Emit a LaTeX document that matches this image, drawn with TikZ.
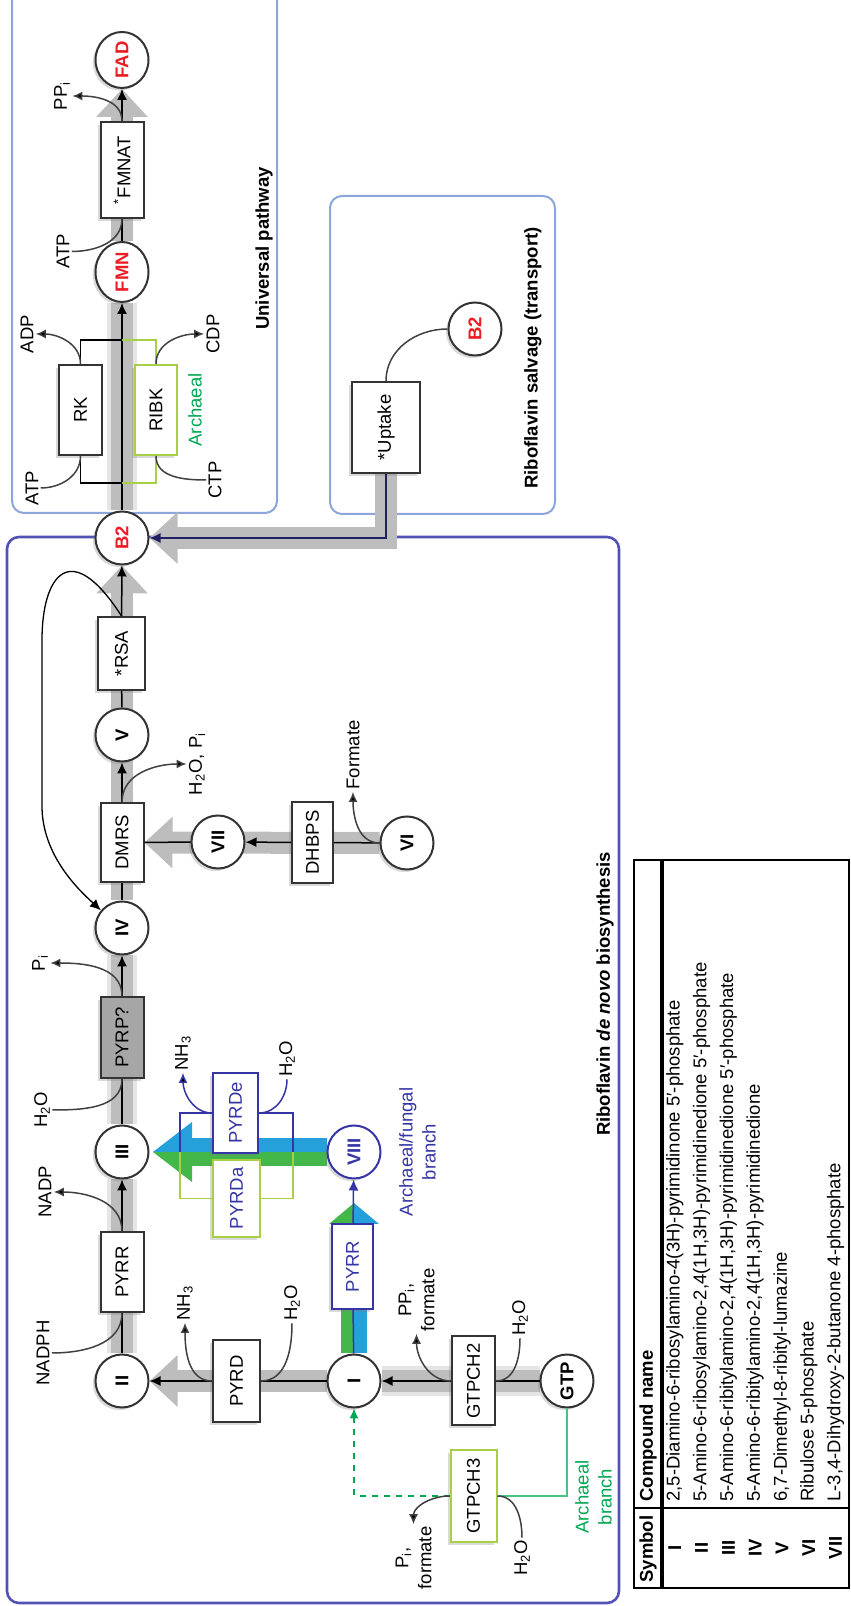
\documentclass[tikz,border=0pt]{standalone}
\usepackage{fontspec}
\setmainfont{Liberation Sans}
\usetikzlibrary{arrows.meta,positioning,shapes.geometric,shadows,calc}
\definecolor{Navy}{HTML}{3535A5}
\definecolor{Leaf}{HTML}{00A651}
\definecolor{LeafLight}{HTML}{A8CF45}
\definecolor{BandGreen}{HTML}{43B74A}
\definecolor{BandBlue}{HTML}{26A0DA}
\definecolor{FlavRed}{HTML}{ED1C24}
\definecolor{FrameBlue}{HTML}{8CA6DB}
\definecolor{FramePurple}{HTML}{5252B5}
\definecolor{BandGray}{HTML}{BDBDBD}
\newcommand{\figfont}{\fontsize{9.25}{11.5}\selectfont}
\pgfdeclarelayer{frame}
\pgfdeclarelayer{band}
\pgfsetlayers{frame,band,main}

\begin{document}
\begin{tikzpicture}[
    x=0.5pt, y=0.5pt, rotate=90, transform shape,
    enzyme/.style={rectangle, draw=black!80, line width=1pt, fill=white, minimum width=42pt, minimum height=21.5pt, inner sep=1pt, font=\figfont, drop shadow={opacity=0.3, shadow xshift=-1.3pt, shadow yshift=-1.3pt}},
    cpd/.style={circle, draw=black!80, line width=1pt, fill=white, minimum size=26.5pt, inner sep=0pt, font={\figfont\bfseries}, drop shadow={opacity=0.3, shadow xshift=-1.3pt, shadow yshift=-1.3pt}},
    cof/.style={ellipse, draw=black!80, line width=1pt, fill=white, minimum height=26.5pt, inner sep=0pt, text=FlavRed, font={\figfont\bfseries}, drop shadow={opacity=0.3, shadow xshift=-1.3pt, shadow yshift=-1.3pt}},
    lbl/.style={inner sep=1pt, font=\figfont, align=center},
    boxtitle/.style={inner sep=1pt, font={\figfont\bfseries}},
    rxn/.style={draw=black, line width=0.75pt},
    rxnarr/.style={rxn, -{Latex[length=5.5pt,width=5pt]}},
    sidepath/.style={draw=black!75, line width=0.75pt},
    sidearr/.style={sidepath, -{Latex[length=5pt,width=4.5pt,fill=black]}},
    flux/.style={draw=BandGray, line width=11pt, preaction={draw=black!10, line width=15pt}},
    fluxarr/.style={draw=BandGray, line width=11pt, -{Triangle[length=14pt,width=25pt]}},
]
\useasboundingbox (0,0) rectangle (1606,-851);

% de novo main row
\node[cpd] (ii) at (225,-122) {II};
\node[enzyme, minimum width=40pt] (pyrr) at (334,-122) {PYRR};
\node[cpd] (iii) at (454,-122) {III};
\node[enzyme, minimum width=40.5pt, fill=black!35] (pyrp) at (568.5,-122) {PYRP?};
\node[cpd] (iv) at (678,-122) {IV};
\node[enzyme, minimum width=39.5pt] (dmrs) at (763.5,-122) {DMRS};
\node[cpd] (v) at (871,-122) {V};
\node[enzyme, minimum width=36.5pt, minimum height=23.5pt] (rsa) at (952.5,-121.5) {*RSA};
\node[cpd, text=FlavRed] (b2) at (1068,-122) {B2};

% universal pathway
\node[enzyme, minimum width=45pt] (rk) at (1196,-80.5) {RK};
\node[enzyme, minimum width=45pt, minimum height=21pt, draw=LeafLight] (ribk) at (1196,-156) {RIBK};
\node[cof, minimum width=30pt] (fmn) at (1334,-122) {FMN};
\node[enzyme, minimum width=48pt] (fmnat) at (1436,-122) {\textsuperscript{*}FMNAT};
\node[cof, minimum width=28pt] (fad) at (1546,-122) {FAD};

% side branches
\node[cpd] (vii) at (764,-218) {VII};
\node[enzyme, minimum width=40.5pt, minimum height=20.5pt] (dhbps) at (763.5,-312.5) {DHBPS};
\node[cpd] (vi) at (763,-407) {VI};
\node[enzyme, minimum width=41pt, minimum height=23.5pt] (pyrd) at (225,-236.5) {PYRD};
\node[cpd] (i) at (225,-354) {I};
\node[enzyme, minimum width=44.5pt] (gtpch2) at (225,-473.5) {GTPCH2};
\node[cpd] (gtp) at (225,-567) {GTP};
\node[enzyme, minimum width=46pt, minimum height=23pt, draw=LeafLight] (gtpch3) at (110,-473.5) {GTPCH3};
\node[enzyme, minimum width=42.5pt, minimum height=20.5pt, draw=Navy, text=Navy] (pyrrb) at (339.5,-352.5) {PYRR};
\node[cpd, draw=Navy, text=Navy] (viii) at (454,-354) {VIII};
\node[enzyme, minimum width=40pt, minimum height=22.5pt, draw=Navy, text=Navy] (pyrde) at (493,-235.5) {PYRDe};
\node[enzyme, minimum width=38.5pt, minimum height=23.5pt, draw=LeafLight, text=Navy] (pyrda) at (407.5,-236.5) {PYRDa};

% salvage
\node[enzyme, minimum width=45.5pt, minimum height=34pt] (uptake) at (1178.5,-386) {*Uptake};
\node[cpd, text=FlavRed] (b2s) at (1277,-475) {B2};

% small labels
\node[lbl] (atpf) at (1354.5,-63) {ATP};
\node[lbl] (ppif) at (1510,-62) {PP\textsubscript{i}};
\node[lbl] (atpr) at (1118,-32) {ATP};
\node[lbl] (adp) at (1272,-27) {ADP};
\node[lbl] (ctp) at (1126,-215) {CTP};
\node[lbl] (cdp) at (1272,-213) {CDP};
\node[lbl, text=Leaf] (archrk) at (1196,-195) {Archaeal};
\node[lbl] (nadph) at (253,-43) {NADPH};
\node[lbl] (nadp) at (414,-45) {NADP};
\node[lbl] (h2oa) at (496,-42) {H\textsubscript{2}O};
\node[lbl] (pia) at (643,-40) {P\textsubscript{i}};
\node[lbl] (h2opi) at (842,-197) {H\textsubscript{2}O, P\textsubscript{i}};
\node[lbl] (formate) at (851,-353) {Formate};
\node[lbl] (nh3a) at (303,-185) {NH\textsubscript{3}};
\node[lbl] (h2ob) at (303,-292) {H\textsubscript{2}O};
\node[lbl] (nh3b) at (553,-183) {NH\textsubscript{3}};
\node[lbl] (h2oc) at (547,-287) {H\textsubscript{2}O};
\node[lbl] (ppf2) at (306,-416.5) {PP\textsubscript{i},\\formate};
\node[lbl] (h2od) at (288,-520) {H\textsubscript{2}O};
\node[lbl] (pf3) at (48,-413.5) {P\textsubscript{i},\\formate};
\node[lbl] (h2oe) at (48,-522) {H\textsubscript{2}O};
\node[lbl, text=Leaf] (archgtp) at (109,-593.5) {Archaeal\\branch};
\node[lbl, text=Navy] (archfun) at (454,-417.5) {Archaeal/fungal\\branch};
\node[boxtitle] (tuniv) at (1357.5,-264) {Universal pathway};
\node[boxtitle] (tsalv) at (1248,-533) {Riboflavin salvage (transport)};
\node[boxtitle] (tdenovo) at (612,-605) {Riboflavin \textit{de novo} biosynthesis};

% boxes round the pathways
\begin{pgfonlayer}{frame}
\draw[FrameBlue, line width=1pt, rounded corners=6pt] (1093,-12) rectangle (1625,-277);
\draw[FrameBlue, line width=1pt, rounded corners=6pt] (1092,-330) rectangle (1410,-555);
\draw[FramePurple, line width=1.3pt, rounded corners=6pt] (3,-7) rectangle (1069,-619);
\end{pgfonlayer}

% flux bands
\begin{pgfonlayer}{band}
\draw[flux] (gtp) -- (i);
\draw[fluxarr] (i) -- (ii);
\draw[flux] (ii) -- (iii);
\draw[flux] (iii) -- (iv);
\draw[fluxarr] (iv) -- (b2);
\draw[flux] (b2) -- (fmn);
\draw[fluxarr] (fmn) -- (fad);
\draw[fluxarr] (vi) -- (dmrs);
\draw[fluxarr] (uptake.west) -| (b2.south);
\coordinate (hd1) at (382,-354);
\draw[line width=6.5pt, BandGreen] ($(i.east)+(0,6.5)$) -- ($(hd1)+(0,6.5)$);
\draw[line width=6.5pt, BandBlue] ($(i.east)+(0,-6.5)$) -- ($(hd1)+(0,-6.5)$);
\fill[BandGreen] ($(hd1)+(0,25)$) -- ($(hd1)+(21,0)$) -- (hd1) -- cycle;
\fill[BandBlue] ($(hd1)+(0,-25)$) -- ($(hd1)+(21,0)$) -- (hd1) -- cycle;
\coordinate (hd2) at (454,-192);
\draw[line width=7pt, BandGreen] ($(viii.north)+(-7,0)$) -- ($(hd2)+(-7,0)$);
\draw[line width=7pt, BandBlue] ($(viii.north)+(7,0)$) -- ($(hd2)+(7,0)$);
\fill[BandGreen] ($(hd2)+(-30,0)$) -- ($(hd2)+(0,39)$) -- (hd2) -- cycle;
\fill[BandBlue] ($(hd2)+(30,0)$) -- ($(hd2)+(0,39)$) -- (hd2) -- cycle;
\end{pgfonlayer}

% reaction lines
\draw[rxn] (ii) -- (pyrr);
\draw[rxnarr] (pyrr) -- (iii);
\draw[rxn] (iii) -- (pyrp);
\draw[rxnarr] (pyrp) -- (iv);
\draw[rxn] (iv) -- (dmrs);
\draw[rxnarr] (dmrs) -- (v);
\draw[rxn] (v) -- (rsa);
\draw[rxnarr] (rsa) -- (b2);
\draw[rxnarr] (b2) -- (fmn);
\draw[rxn] (fmn) -- (fmnat);
\draw[rxnarr] (fmnat) -- (fad);
\draw[rxn] (vi) -- (dhbps);
\draw[rxnarr] (dhbps) -- (vii);
\draw[rxn] (vii) -- (dmrs);
\draw[rxn] (gtp) -- (gtpch2);
\draw[rxnarr] (gtpch2) -- (i);
\draw[rxn] (i) -- (pyrd);
\draw[rxnarr] (pyrd) -- (ii);
\draw[rxn, Navy] (i) -- (pyrrb);
\draw[rxnarr, Navy] (pyrrb) -- (viii);
\draw[rxnarr, Navy!60!black] (uptake.west) -| (b2.south);
\draw[rxn, black!75, line width=0.75pt] (b2s.north) to[out=90, in=0] (uptake.east);
\draw[rxnarr, line width=0.65pt] (rsa.east) .. controls (1070,-70) and (1030,-42) .. (966,-42) -- (800,-42) .. controls (750,-42) and (715,-80) .. (iv.50);

% enzyme brackets
\coordinate (rkin) at (1123,-122);
\coordinate (rkout) at (1266,-122);
\draw[rxn, line width=0.6pt] (rkin) |- (rk.west);
\draw[rxn, line width=0.6pt] (rk.east) -| (rkout);
\draw[rxn, line width=0.6pt, LeafLight] (rkin) |- (ribk.west);
\draw[rxn, line width=0.6pt, LeafLight] (ribk.east) -| (rkout);
\coordinate (pdin) at (454,-293);
\coordinate (pdout) at (454,-180);
\draw[rxn, line width=0.6pt, LeafLight] (pyrda.north) |- (pdout);
\draw[rxn, line width=0.6pt, LeafLight] (pyrda.south) |- (pdin);
\draw[rxn, line width=0.6pt, Navy] (pyrde.north) |- (pdout);
\draw[rxn, line width=0.6pt, Navy] (pyrde.south) |- (pdin);

% archaeal branch
\draw[rxn, line width=0.6pt, Leaf!70] (gtp.west) -| (gtpch3.south);
\draw[rxn, line width=0.6pt, Leaf, dashed, -{Latex[length=5pt,width=4.5pt]}] (gtpch3.north) |- (i.west);

% co-substrates and by-products
\draw[sidepath] (atpf.south) to[out=-90, in=180] (fmnat.west);
\draw[sidearr] (fmnat.east) to[out=0, in=-90] (ppif.south);
\draw[sidepath] (atpr.south) to[out=-90, in=180] (rk.west);
\draw[sidearr] (rk.east) to[out=0, in=-90] (adp.south);
\draw[sidepath] (ctp.north) to[out=90, in=180] (ribk.west);
\draw[sidearr] (ribk.east) to[out=0, in=90] (cdp.north);
\draw[sidepath] (nadph.south) to[out=-90, in=180] (pyrr.west);
\draw[sidearr] (pyrr.east) to[out=0, in=-90] (nadp.south);
\draw[sidepath] (h2oa.south) to[out=-90, in=180] (pyrp.west);
\draw[sidearr] (pyrp.east) to[out=0, in=-90] (pia.south);
\draw[sidearr] (dmrs.east) to[out=0, in=90] (h2opi.north);
\draw[sidearr] (vi.north) to[out=90, in=180] (formate.west);
\draw[sidearr] (pyrd.north) to[out=90, in=180] (nh3a.west);
\draw[sidepath] (h2ob.west) to[out=180, in=-90] (pyrd.south);
\draw[sidearr, Navy] (pyrde.north) to[out=90, in=180] (nh3b.west);
\draw[sidepath, Navy] (h2oc.west) to[out=180, in=-90] (pyrde.south);
\draw[sidearr] (gtpch2.north) to[out=90, in=180] (ppf2.west);
\draw[sidepath] (h2od.west) to[out=180, in=-90] (gtpch2.south);
\draw[sidearr] (gtpch3.north) to[out=90, in=0] (pf3.east);
\draw[sidepath] (h2oe.east) to[out=0, in=-90] (gtpch3.south);

% compound table
\draw[line width=1.1pt] (18,-634) rectangle (746,-849);
\draw[line width=2.2pt] (18,-662) -- (746,-662);
\draw[line width=1.1pt] (98,-634) -- (98,-849);
\node[boxtitle] (hsym) at (57,-648) {Symbol};
\node[boxtitle, anchor=west] (hname) at (102,-648) {Compound name};
\foreach \s/\n [count=\k] in {
    I/{2,5-Diamino-6-ribosylamino-4(3H)-pyrimidinone 5′-phosphate},
    II/{5-Amino-6-ribosylamino-2,4(1H,3H)-pyrimidinedione 5′-phosphate},
    III/{5-Amino-6-ribitylamino-2,4(1H,3H)-pyrimidinedione 5′-phosphate},
    IV/{5-Amino-6-ribitylamino-2,4(1H,3H)-pyrimidinedione},
    V/{6,7-Dimethyl-8-ribityl-lumazine},
    VI/{Ribulose 5-phosphate},
    VII/{L-3,4-Dihydroxy-2-butanone 4-phosphate}} {
  \node[boxtitle] (sym\k) at (58,{-648-26.8*\k}) {\s};
  \node[lbl, anchor=west] (name\k) at (102,{-648-26.8*\k}) {\n};
}
\end{tikzpicture}
\end{document}
